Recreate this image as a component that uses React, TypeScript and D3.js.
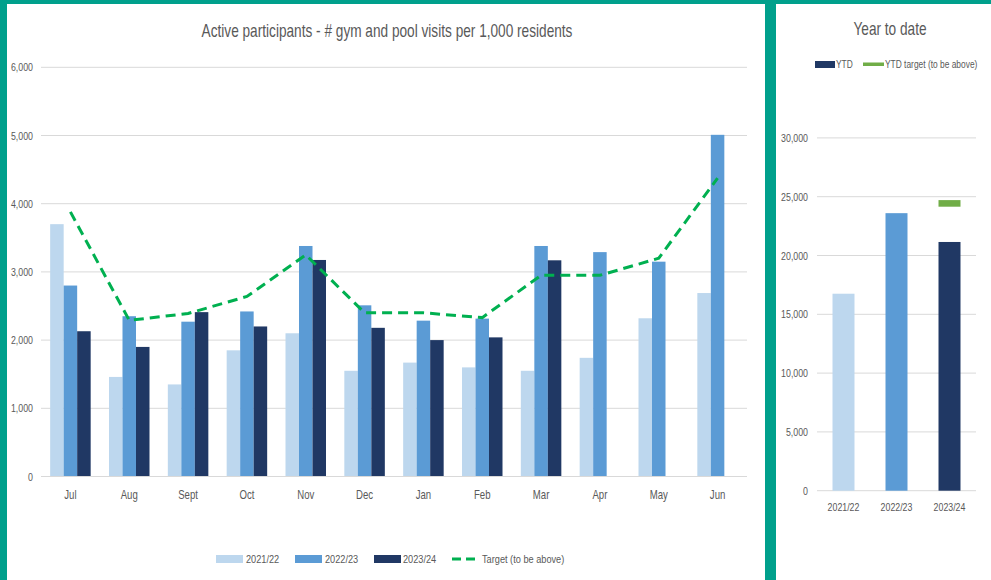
import React from "react";
import * as d3 from "d3";

const months = ["Jul", "Aug", "Sept", "Oct", "Nov", "Dec", "Jan", "Feb", "Mar", "Apr", "May", "Jun"];
const seriesNames = ["2021/22", "2022/23", "2023/24"];
const s2122 = [3700, 1460, 1350, 1850, 2100, 1550, 1670, 1600, 1550, 1740, 2320, 2690];
const s2223 = [2800, 2350, 2270, 2420, 3380, 2510, 2285, 2315, 3380, 3290, 3150, 5010];
const s2324: (number | null)[] = [2130, 1900, 2410, 2200, 3175, 2180, 2000, 2040, 3170, null, null, null];
const target = [3880, 2290, 2390, 2640, 3250, 2400, 2400, 2330, 2950, 2950, 3200, 4375];
const yTicks = [0, 1000, 2000, 3000, 4000, 5000, 6000];

const ytdYears = ["2021/22", "2022/23", "2023/24"];
const ytdValues = [16750, 23600, 21150];
const ytdTarget = [null, null, 24430];
const ytdTicks = [0, 5000, 10000, 15000, 20000, 25000, 30000];

const colors = ["#BDD7EE", "#5B9BD5", "#203864"];
const teal = "#00A08C";
const grid = "#D9D9D9";
const textCol = "#595959";
const font = "'Liberation Sans', Arial, sans-serif";
const fmt = d3.format(",");

function T(props: { x: number; y: number; size: number; anchor?: string; sx?: number; children: React.ReactNode }) {
  const { x, y, size, anchor = "start", sx = 0.8, children } = props;
  return (
    <text
      transform={`translate(${x},${y}) scale(${sx},1)`}
      textAnchor={anchor}
      fontSize={size}
      fill={textCol}
    >
      {children}
    </text>
  );
}

export default function App() {
  const W = 991, H = 580;
  const x = d3.scaleBand<string>().domain(months).range([41, 747]);
  const y = d3.scaleLinear().domain([0, 6000]).range([476.5, 67.3]);
  const data = [s2122, s2223, s2324];
  const bw = 13.5;
  const sub = d3.scaleBand<string>().domain(seriesNames).range([-bw * 1.5, bw * 1.5]);
  const line = d3
    .line<number>()
    .x((_, i) => (x(months[i]) as number) + x.bandwidth() / 2)
    .y((d) => y(d));

  const xr = d3.scaleBand<string>().domain(ytdYears).range([817, 976]).paddingInner(0.585).paddingOuter(0.2925);
  const yr = d3.scaleLinear().domain([0, 30000]).range([490.7, 137.9]);

  const legendItems = [
    { label: "2021/22", sx: 216, tx: 246, kind: "bar", c: colors[0] },
    { label: "2022/23", sx: 295, tx: 325, kind: "bar", c: colors[1] },
    { label: "2023/24", sx: 374, tx: 403, kind: "bar", c: colors[2] },
    { label: "Target (to be above)", sx: 452, tx: 482, kind: "line", c: "#00B050" },
  ];

  return (
    <svg width={W} height={H} style={{ position: "absolute", left: 0, top: 0, background: "#fff" }} fontFamily={font}>
      <rect x={0} y={0} width={W} height={H} fill="#fff" />
      <rect x={0} y={0} width={W} height={4} fill={teal} />
      <rect x={0} y={0} width={7} height={H} fill={teal} />
      <rect x={765} y={0} width={11} height={H} fill={teal} />

      <T x={387} y={37} size={17.5} anchor="middle" sx={0.78}>
        Active participants - # gym and pool visits per 1,000 residents
      </T>

      {yTicks.map((t) => (
        <g key={t}>
          <line x1={41} x2={747} y1={y(t)} y2={y(t)} stroke={grid} strokeWidth={1} />
          <T x={33} y={y(t) + 4} size={11} anchor="end">
            {fmt(t)}
          </T>
        </g>
      ))}

      {months.map((m, i) => {
        const cx = (x(m) as number) + x.bandwidth() / 2;
        return (
          <g key={m}>
            {data.map((s, k) => {
              const v = s[i];
              if (v == null) return null;
              return (
                <rect
                  key={k}
                  x={cx + (sub(seriesNames[k]) as number)}
                  y={y(v)}
                  width={sub.bandwidth()}
                  height={y(0) - y(v)}
                  fill={colors[k]}
                />
              );
            })}
            <T x={cx} y={499} size={12} anchor="middle">
              {m}
            </T>
          </g>
        );
      })}
      <line x1={41} x2={747} y1={y(0)} y2={y(0)} stroke={grid} strokeWidth={1} />

      <path d={line(target) || ""} fill="none" stroke="#00B050" strokeWidth={3} strokeDasharray="10,6" />

      {legendItems.map((it) => (
        <g key={it.label}>
          {it.kind === "bar" ? (
            <rect x={it.sx} y={555} width={27} height={8} fill={it.c} />
          ) : (
            <line x1={it.sx} x2={it.sx + 27} y1={559} y2={559} stroke={it.c} strokeWidth={3} strokeDasharray="9,5" />
          )}
          <T x={it.tx} y={563} size={11.5}>
            {it.label}
          </T>
        </g>
      ))}

      <T x={890} y={35} size={17.5} anchor="middle" sx={0.78}>
        Year to date
      </T>
      <rect x={815} y={61} width={20} height={7} fill={colors[2]} />
      <T x={836} y={68} size={10.5}>
        YTD
      </T>
      <rect x={863} y={62.5} width={21} height={3.5} fill="#70AD47" />
      <T x={885} y={68} size={10.5}>
        YTD target (to be above)
      </T>

      {ytdTicks.map((t) => (
        <g key={t}>
          <line x1={817} x2={976} y1={yr(t)} y2={yr(t)} stroke={grid} strokeWidth={1} />
          <T x={808} y={yr(t) + 4} size={11} anchor="end">
            {fmt(t)}
          </T>
        </g>
      ))}
      {ytdYears.map((yy, i) => (
        <g key={yy}>
          <rect
            x={xr(yy) as number}
            y={yr(ytdValues[i])}
            width={xr.bandwidth()}
            height={yr(0) - yr(ytdValues[i])}
            fill={colors[i]}
          />
          {ytdTarget[i] != null && (
            <rect
              x={xr(yy) as number}
              y={yr(ytdTarget[i] as number) - 3.3}
              width={xr.bandwidth()}
              height={6.6}
              fill="#70AD47"
            />
          )}
          <T x={(xr(yy) as number) + xr.bandwidth() / 2} y={511} size={11} anchor="middle">
            {yy}
          </T>
        </g>
      ))}
    </svg>
  );
}
